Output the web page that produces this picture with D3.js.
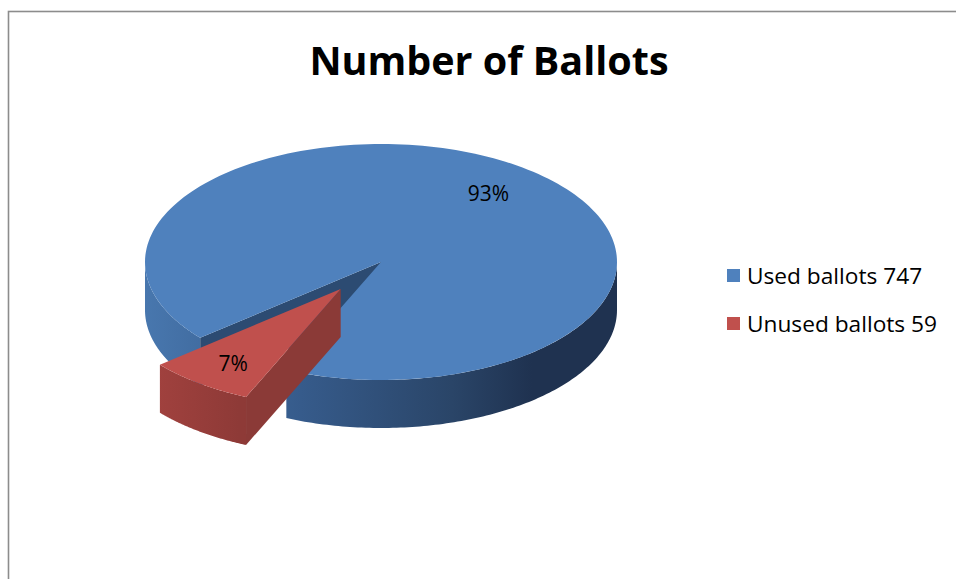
<!DOCTYPE html>
<html>
<head>
<meta charset="utf-8">
<script src="https://cdn.jsdelivr.net/npm/d3@7"></script>
<style>
  html, body { margin: 0; padding: 0; background: #fff; }
  svg { display: block; }
</style>
</head>
<body>
<svg id="chart" width="956" height="579"></svg>
<script>
// ---- data ----
const title = "Number of Ballots";
const categories = ["Used ballots", "Unused ballots"];
const values = [747, 59];
const legendLabels = ["Used ballots 747", "Unused ballots 59"];
const topColors = ["#4F81BD", "#C0504D"];
const exploded = [false, true];

// ---- layout ----
const W = 956, H = 579;
const cx = 381, cy = 262, rx = 236, ry = 118, depth = 48;
const explodeFrac = 0.285;
const startDeg = 230;
const FONT = "'Open Sans', 'Noto Sans', sans-serif";

const svg = d3.select("#chart");
const defs = svg.append("defs");

// border
svg.append("rect")
  .attr("x", 8.5).attr("y", 11.5)
  .attr("width", W + 20).attr("height", H + 20)
  .attr("fill", "none").attr("stroke", "#8c8c8c").attr("stroke-width", 1.6);

// title
svg.append("text")
  .attr("x", 489).attr("y", 75)
  .attr("text-anchor", "middle")
  .attr("font-family", FONT)
  .attr("font-weight", "bold")
  .attr("font-size", 39.5)
  .attr("fill", "#000")
  .text(title);

// gradients
function hGrad(id, stops) {
  const g = defs.append("linearGradient").attr("id", id)
    .attr("gradientUnits", "userSpaceOnUse")
    .attr("x1", cx - rx).attr("x2", cx + rx).attr("y1", 0).attr("y2", 0);
  stops.forEach(([o, c]) => g.append("stop").attr("offset", o).attr("stop-color", c));
}
hGrad("blueSide", [[0, "#4877AE"], [0.33, "#365B8B"], [0.65, "#2A4568"], [0.82, "#1F3250"], [1, "#1F3250"]]);
hGrad("redSide", [[0, "#A3423F"], [0.2, "#8E3A37"], [1, "#8A3835"]]);

const pie = d3.pie().sort(null)
  .startAngle(startDeg * Math.PI / 180)
  .endAngle((startDeg + 360) * Math.PI / 180);
const arcs = pie(values);

function pt(a, ox, oy, dz) {
  return [cx + ox + rx * Math.sin(a), cy + oy - ry * Math.cos(a) + dz];
}
const line = d3.line();

function offsetOf(d, i) {
  if (!exploded[i]) return [0, 0];
  const m = (d.startAngle + d.endAngle) / 2;
  return [explodeFrac * rx * Math.sin(m), -explodeFrac * ry * Math.cos(m)];
}

function topPath(d, ox, oy) {
  const n = 200;
  const pts = [[cx + ox, cy + oy]];
  d3.range(n + 1).forEach(k => {
    const a = d.startAngle + (d.endAngle - d.startAngle) * k / n;
    pts.push(pt(a, ox, oy, 0));
  });
  return line(pts) + "Z";
}

function sidePath(a0, a1, ox, oy) {
  const n = 120;
  const top = d3.range(n + 1).map(k => pt(a0 + (a1 - a0) * k / n, ox, oy, 0));
  const bot = d3.range(n + 1).map(k => pt(a1 - (a1 - a0) * k / n, ox, oy, depth));
  return line(top.concat(bot)) + "Z";
}

function visibleIntervals(a0, a1) {
  const out = [];
  for (let k = -1; k <= 3; k++) {
    const lo = Math.max(a0, Math.PI / 2 + 2 * Math.PI * k);
    const hi = Math.min(a1, 3 * Math.PI / 2 + 2 * Math.PI * k);
    if (hi > lo) out.push([lo, hi]);
  }
  return out;
}

function wallPath(a, ox, oy) {
  return line([[cx + ox, cy + oy], pt(a, ox, oy, 0), pt(a, ox, oy, depth), [cx + ox, cy + oy + depth]]) + "Z";
}

const sideFill = ["url(#blueSide)", "url(#redSide)"];
const wallFill = ["#2C4B72", "#8B3A37"];

const gPie = svg.append("g");
arcs.forEach((d, i) => {
  const [ox, oy] = offsetOf(d, i);
  const g = gPie.append("g");
  visibleIntervals(d.startAngle, d.endAngle).forEach(([lo, hi]) => {
    g.append("path").attr("d", sidePath(lo, hi, ox, oy)).attr("fill", sideFill[i]);
  });
  // radial walls that face the viewer
  const nrmS = (d.startAngle % (2 * Math.PI)) - Math.PI / 2;
  if (-Math.cos(nrmS) > 0) g.append("path").attr("d", wallPath(d.startAngle, ox, oy)).attr("fill", wallFill[i]);
  const nrmE = (d.endAngle % (2 * Math.PI)) + Math.PI / 2;
  if (-Math.cos(nrmE) > 0) g.append("path").attr("d", wallPath(d.endAngle, ox, oy)).attr("fill", wallFill[i]);
  g.append("path").attr("d", topPath(d, ox, oy)).attr("fill", topColors[i]);
});

// percentage labels
const total = d3.sum(values);
const fmt = d3.format(".0%");
arcs.forEach((d, i) => {
  const [ox, oy] = offsetOf(d, i);
  const m = (d.startAngle + d.endAngle) / 2;
  const f = 0.76;
  svg.append("text")
    .attr("x", cx + ox + f * rx * Math.sin(m))
    .attr("y", cy + oy - f * ry * Math.cos(m) + 3)
    .attr("dy", "0.35em")
    .attr("text-anchor", "middle")
    .attr("font-family", FONT)
    .attr("font-size", 21)
    .attr("fill", "#000")
    .text(fmt(d.value / total));
});

// legend
const leg = svg.append("g");
const legY = d3.scalePoint().domain(categories).range([276, 324]);
categories.forEach((c, i) => {
  leg.append("rect")
    .attr("x", 727).attr("y", legY(c) - 7)
    .attr("width", 13).attr("height", 13)
    .attr("fill", topColors[i]);
  leg.append("text")
    .attr("x", 747).attr("y", legY(c))
    .attr("dy", "0.35em")
    .attr("font-family", FONT)
    .attr("font-size", 22.7)
    .attr("fill", "#000")
    .text(legendLabels[i]);
});
</script>
</body>
</html>
